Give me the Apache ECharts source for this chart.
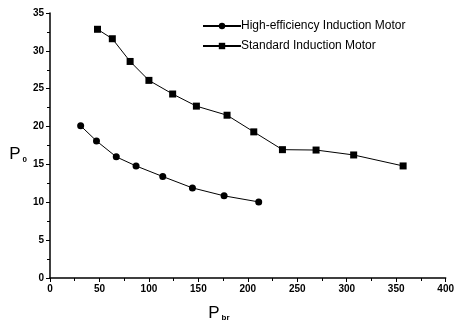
<!DOCTYPE html>
<html>
<head>
<meta charset="utf-8">
<script src="https://cdn.jsdelivr.net/npm/echarts@6/dist/echarts.min.js"></script>
<style>
  html, body { margin: 0; padding: 0; background: #fff; }
  #chart { width: 457px; height: 327px; }
</style>
</head>
<body>
<div id="chart"></div>
<script>
// High-efficiency induction motor (circles)
const highPbr = [31, 47, 67, 87, 114, 144, 176, 211];
const highP0 = [20.1, 18.1, 16.0, 14.8, 13.4, 11.9, 10.85, 10.05];

// Standard induction motor (squares)
const stdPbr = [48, 63, 81, 100, 124, 148, 179, 206, 235, 269, 307, 357];
const stdP0 = [32.85, 31.6, 28.6, 26.1, 24.3, 22.7, 21.5, 19.3, 16.95, 16.9, 16.25, 14.8];

const seriesNames = ['High-efficiency Induction Motor', 'Standard Induction Motor'];

const chart = echarts.init(document.getElementById('chart'), null, {renderer: 'canvas'});

const font = '"Liberation Sans", Arial, sans-serif';
const subStyle = {fontSize: 8, fontWeight: 'bold', verticalAlign: 'bottom', padding: [10, 0, 0, 2]};

const option = {
  animation: false,
  textStyle: {fontFamily: font},
  grid: {left: 50, right: 8, top: 13, bottom: 48},
  legend: {
    orient: 'vertical',
    left: 197,
    top: 15,
    itemWidth: 38,
    itemHeight: 8,
    itemGap: 8,
    textStyle: {color: '#000', fontSize: 12, fontFamily: font, padding: [0, 0, 0, -5]},
    data: seriesNames
  },
  xAxis: {
    type: 'value',
    min: 0,
    max: 400,
    interval: 50,
    name: 'P{sub|br}',
    nameLocation: 'middle',
    nameGap: 26,
    nameTextStyle: {
      color: '#000', fontSize: 17, fontFamily: font,
      padding: [0, 58, 0, 0],
      rich: {sub: subStyle}
    },
    axisLine: {lineStyle: {color: '#000', width: 1.5}},
    axisTick: {show: true, inside: false, length: 4, lineStyle: {color: '#000'}},
    minorTick: {show: true, splitNumber: 2, length: 3, lineStyle: {color: '#000'}},
    axisLabel: {color: '#000', fontSize: 10, fontWeight: 'bold', margin: 6},
    splitLine: {show: false}
  },
  yAxis: {
    type: 'value',
    min: 0,
    max: 35,
    interval: 5,
    name: 'P{sub|0}',
    nameLocation: 'middle',
    nameRotate: 0,
    nameGap: 18,
    nameTextStyle: {
      color: '#000', fontSize: 17, fontFamily: font,
      padding: [18, 0, 0, 0],
      rich: {sub: subStyle}
    },
    axisLine: {show: true, lineStyle: {color: '#000', width: 1.5}},
    axisTick: {show: true, inside: false, length: 4, lineStyle: {color: '#000'}},
    minorTick: {show: true, splitNumber: 2, length: 3, lineStyle: {color: '#000'}},
    axisLabel: {color: '#000', fontSize: 10, fontWeight: 'bold', margin: 6},
    splitLine: {show: false}
  },
  series: [
    {
      name: seriesNames[0],
      type: 'line',
      symbol: 'circle',
      symbolSize: 7,
      itemStyle: {color: '#000'},
      lineStyle: {color: '#000', width: 1},
      data: highPbr.map(function (x, i) { return [x, highP0[i]]; })
    },
    {
      name: seriesNames[1],
      type: 'line',
      symbol: 'rect',
      symbolSize: 7,
      itemStyle: {color: '#000'},
      lineStyle: {color: '#000', width: 1},
      data: stdPbr.map(function (x, i) { return [x, stdP0[i]]; })
    }
  ]
};

chart.setOption(option);
</script>
</body>
</html>
